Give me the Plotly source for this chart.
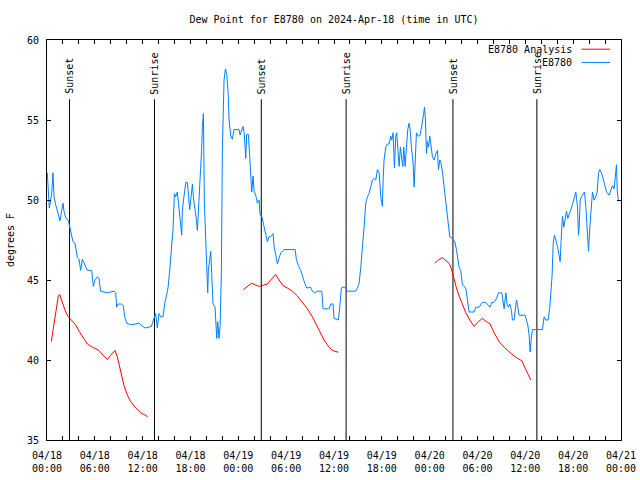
import pandas as pd
import plotly.graph_objects as go

START = pd.Timestamp("2024-04-18 00:00")
TITLE = "Dew Point for E8780 on 2024-Apr-18 (time in UTC)"

# Observed dew point (E8780): hours since start, degrees F
obs_hours = [0.04, 0.17, 0.29, 0.46, 0.59, 0.75, 0.88, 1.09, 1.30, 1.51, 1.63, 1.80, 2.01, 2.13, 2.34, 2.68, 2.84, 3.05, 3.26, 3.51, 3.68, 3.81, 4.02, 4.22, 4.43, 4.64, 4.85, 5.06, 5.60, 5.69, 5.81, 6.02, 6.32, 6.52, 6.73, 7.57, 8.41, 8.62, 8.74, 8.91, 9.33, 9.58, 9.75, 10.0, 10.5, 11.54, 11.75, 11.96, 12.38, 12.80, 13.09,
             13.22, 13.43, 13.63, 13.84, 14.05, 14.26, 14.55, 14.76, 14.97, 15.18, 15.39, 15.60, 15.81, 15.98, 16.14, 16.35, 16.56, 16.77, 16.90, 16.98, 17.19, 17.40, 17.61, 17.73, 17.90, 18.03, 18.24, 18.36, 18.53, 18.74, 18.86, 18.99, 19.16, 19.28, 19.41, 19.49, 19.62, 19.74, 19.91, 20.03, 20.16, 20.24, 20.41, 20.54, 20.66, 20.83, 21.08, 21.16, 21.29, 21.41, 21.58, 21.71, 21.87, 22.00, 22.21, 22.38, 22.54, 22.71, 22.84, 23.05, 23.25, 23.46, 24.09, 24.22, 24.42, 24.59, 24.76, 24.93, 25.05, 25.26, 25.43, 25.55, 25.68, 25.85, 25.97, 26.18, 26.39,
             26.60, 26.73, 26.93, 27.10, 27.35, 27.65, 27.85, 28.06, 28.36, 28.48, 28.69, 28.90, 29.11, 29.32, 29.74, 31.12, 31.28, 31.53, 31.83, 32.04, 32.33, 32.58, 33.08, 33.29, 33.58, 33.92, 34.46, 34.63, 35.38, 35.59, 35.88, 36.01, 36.43, 36.55, 36.72, 36.93, 37.14, 37.39, 37.68, 38.73, 38.94,
             39.15, 39.36, 39.57, 39.77, 39.98, 40.19, 40.40, 40.61, 40.82, 41.03, 41.24, 41.45, 41.66, 41.87, 42.07, 42.16, 42.28, 42.49, 42.70, 42.91, 43.12, 43.25, 43.41, 43.58, 43.75, 43.87, 44.04, 44.17, 44.33, 44.50, 44.63, 44.75, 44.92, 45.09, 45.25, 45.42, 45.55, 45.71, 45.92, 46.05, 46.17, 46.34, 46.55, 46.76, 46.93, 47.09, 47.22, 47.35, 47.47, 47.60, 47.72, 47.85, 48.01, 48.14, 48.35, 48.56, 48.77, 48.98, 49.10, 49.27, 49.44, 49.61, 49.82, 49.94, 50.11, 50.23, 50.36, 50.52, 50.86, 51.15, 51.36, 51.53, 51.69, 51.90, 52.11, 52.36, 52.57, 52.74, 52.95, 53.58, 53.79,
             54.20, 54.62, 55.04, 55.37, 55.58, 55.79, 56.09, 56.38, 56.63, 57.05, 57.21, 57.34, 57.55, 57.72, 57.88, 58.05, 58.26, 58.38, 58.59, 58.72, 58.89, 59.01, 59.22, 59.97, 60.14, 60.31, 60.48, 60.60, 60.77, 60.90, 62.15, 62.36, 62.57, 62.86, 63.07, 63.24, 63.36, 63.49, 63.66, 63.82, 64.03, 64.24, 64.37, 64.49, 64.66, 64.83, 64.99, 65.16, 65.33, 65.50, 65.71, 65.91, 66.12, 66.33, 66.54, 66.67, 66.75, 66.88, 67.04, 67.25, 67.42, 67.59, 67.80, 67.92, 68.09, 68.26, 68.42, 68.63, 68.84, 69.01, 69.18, 69.34, 69.55, 69.76, 69.97, 70.18, 70.51, 70.72, 70.93, 71.14, 71.35, 71.43, 71.54, 71.66]
obs_values = [51.7, 50.0, 49.5, 50.0, 50.4, 51.7, 50.2, 49.7, 49.3, 48.9, 48.7, 49.2, 49.8, 49.3, 48.9, 48.7, 48.3, 47.9, 47.4, 47.3, 46.7, 46.4, 46.3, 45.6, 46.3, 46.1, 45.8, 45.6, 45.6, 45.0, 44.6, 45.0, 45.2, 45.1, 44.3, 44.2, 44.3, 44.2, 43.3, 43.5, 43.5, 43.4, 42.7, 42.3, 42.2, 42.3, 42.2, 42.1, 42.0, 42.05, 42.1,
              42.3, 42.7, 42.9, 42.0, 42.9, 42.7, 42.7, 43.5, 44.0, 44.5, 45.6, 46.9, 48.2, 50.4, 50.2, 50.5, 49.6, 48.3, 47.8, 49.4, 50.2, 51.1, 51.1, 50.2, 49.4, 50.0, 51.0, 50.2, 49.6, 48.75, 48.1, 49.2, 50.4, 52.2, 53.3, 54.6, 55.4, 49.8, 47.3, 45.4, 44.2, 45.6, 46.5, 46.8, 45.4, 43.5, 43.3, 42.0, 41.35, 42.4, 41.35, 42.1, 45.4, 53.2, 57.5, 58.2, 57.9, 56.8, 55.0, 54.0, 53.8, 54.4, 54.4, 54.06, 54.4, 54.6, 54.06, 52.6, 54.1, 54.1, 52.7, 51.5, 50.5, 51.5, 50.6, 50.3, 49.8,
              50.0, 49.06, 49.0, 48.6, 48.1, 47.4, 47.7, 47.7, 47.9, 47.1, 46.6, 46.0, 46.35, 46.7, 46.9, 46.9, 46.3, 45.9, 45.6, 45.2, 44.8, 44.5, 44.54, 44.3, 44.2, 44.3, 44.3, 43.2, 43.2, 43.5, 43.5, 42.6, 42.5, 42.5, 43.3, 44.5, 44.55, 44.55, 44.3, 44.3, 44.5,
              44.8, 45.8, 46.9, 48.3, 49.8, 50.2, 50.4, 50.8, 51.25, 51.35, 51.25, 51.9, 51.7, 50.2, 49.6, 51.25, 52.5, 53.3, 53.5, 53.5, 54.0, 53.75, 54.2, 52.0, 54.0, 54.2, 53.1, 52.1, 53.3, 52.5, 52.1, 53.3, 52.1, 53.3, 54.4, 54.8, 54.4, 53.3, 52.3, 50.8, 52.3, 54.2, 54.0, 54.0, 54.4, 54.8, 55.3, 55.8, 55.0, 52.9, 53.65, 53.3, 54.0, 53.5, 52.7, 52.5, 52.9, 53.1, 51.9, 52.5, 52.3, 51.7, 50.8, 50.2, 49.4, 48.75, 48.3, 47.7, 47.6, 47.4, 46.9, 46.25, 45.8, 45.6, 44.7, 44.6, 44.4, 43.75, 43.0, 43.0, 43.3,
              43.3, 43.6, 43.6, 43.45, 43.3, 43.6, 43.6, 43.85, 44.2, 44.2, 43.65, 43.2, 44.2, 43.45, 43.3, 43.5, 43.1, 42.5, 42.5, 43.1, 43.75, 43.45, 42.8, 42.8, 42.5, 42.2, 41.5, 40.5, 41.5, 41.9, 41.9, 42.7, 42.5, 42.5, 43.3, 44.2, 45.3, 47.3, 47.8, 47.5, 47.1, 46.5, 46.15, 47.5, 49.0, 48.3, 48.75, 49.3, 48.85, 49.06, 49.4, 49.7, 50.2, 50.5, 49.6, 47.8, 48.3, 50.0, 50.2, 50.4, 50.5, 49.6, 47.4, 46.8, 48.3, 49.6, 50.5, 50.0, 50.2, 50.5, 51.7, 51.9, 51.7, 51.35, 50.9, 50.5, 50.3, 50.6, 50.9, 50.7, 51.7, 52.2, 50.5, 50.0]

# Analysis series, three separate runs
ana1_hours = [0.54, 0.88, 1.17, 1.42, 1.59, 1.92, 2.34, 2.68, 3.18, 3.60, 4.02, 4.43, 5.06, 5.69, 6.52, 7.03, 7.57, 7.99, 8.53, 8.82, 9.24, 9.66, 10.08, 10.50, 11.13, 11.75, 12.30, 12.63]
ana1_values = [41.15, 42.3, 43.3, 44.0, 44.1, 43.65, 43.0, 42.7, 42.4, 42.2, 41.8, 41.45, 41.0, 40.8, 40.6, 40.3, 40.04, 40.3, 40.6, 40.2, 39.2, 38.4, 37.8, 37.4, 37.0, 36.7, 36.56, 36.46]
ana2_hours = [24.63, 25.14, 25.68, 26.18, 26.60, 27.23, 27.65, 28.06, 28.69, 29.11, 29.61, 30.15, 30.78, 31.41, 32.04, 32.66, 33.29, 33.79, 34.21, 34.75, 35.38, 35.80, 36.55]
ana2_values = [44.4, 44.6, 44.8, 44.69, 44.6, 44.69, 44.75, 45.0, 45.35, 45.0, 44.65, 44.5, 44.3, 44.0, 43.6, 43.2, 42.7, 42.2, 41.7, 41.25, 40.8, 40.6, 40.48]
ana3_hours = [48.64, 49.10, 49.60, 50.02, 50.44, 50.73, 51.07, 51.36, 51.69, 52.11, 52.53, 53.03, 53.58, 54.12, 54.62, 55.12, 55.58, 56.09, 56.71, 57.34, 57.97, 58.59, 59.22, 59.56, 59.97, 60.35, 60.69]
ana3_values = [46.04, 46.25, 46.4, 46.19, 46.04, 45.7, 45.0, 44.5, 44.0, 43.44, 42.96, 42.5, 42.1, 42.4, 42.6, 42.4, 42.25, 41.7, 41.15, 40.8, 40.5, 40.25, 40.04, 39.96, 39.5, 39.06, 38.75]

sunset_hours = [2.83, 26.88, 50.92]
sunrise_hours = [13.48, 37.52, 61.45]
event_top = 56.3

tick_hours = list(range(0, 73, 2))
label_hours = list(range(0, 73, 6))
y_ticks = [35, 40, 45, 50, 55, 60]

legend_names = ["E8780 Analysis", "E8780"]
RED = "#ff0000"
BLUE = "#0080ff"
FONT = "DejaVu Sans Mono"


def to_time(hours):
    return [None if h is None else START + pd.Timedelta(hours=h) for h in hours]


ana_hours = ana1_hours + [None] + ana2_hours + [None] + ana3_hours
ana_values = ana1_values + [None] + ana2_values + [None] + ana3_values

fig = go.Figure()

# sunrise / sunset lines
ev_x, ev_y = [], []
for h in sunset_hours + sunrise_hours:
    ev_x += [h, h, None]
    ev_y += [35, event_top, None]
fig.add_trace(go.Scatter(x=to_time(ev_x), y=ev_y, mode="lines",
                         line=dict(color="black", width=1), hoverinfo="skip", showlegend=False))

fig.add_trace(go.Scatter(x=to_time(ana_hours), y=ana_values, mode="lines", name=legend_names[0],
                         line=dict(color=RED, width=1), connectgaps=False))
fig.add_trace(go.Scatter(x=to_time(obs_hours), y=obs_values, mode="lines", name=legend_names[1],
                         line=dict(color=BLUE, width=1)))

annotations = []
for label, hours in (("Sunset", sunset_hours), ("Sunrise", sunrise_hours)):
    for h in hours:
        annotations.append(dict(x=START + pd.Timedelta(hours=h), y=event_top, xref="x", yref="y",
                                text=label, textangle=-90, showarrow=False,
                                xanchor="center", yanchor="bottom", yshift=3,
                                font=dict(family=FONT, size=10, color="black")))

# gnuplot-style legend: text on left, line sample on right
shapes = []
leg_y = [0.977, 0.944]
for name, col, ly in zip(legend_names, [RED, BLUE], leg_y):
    annotations.append(dict(x=0.918, y=ly, xref="paper", yref="paper", text=name, showarrow=False,
                            xanchor="right", yanchor="middle",
                            font=dict(family=FONT, size=10, color="black")))
    shapes.append(dict(type="line", xref="paper", yref="paper", x0=0.9315, x1=0.981, y0=ly, y1=ly,
                       line=dict(color=col, width=1)))

tick_vals = [START + pd.Timedelta(hours=h) for h in tick_hours]
tick_text = [(START + pd.Timedelta(hours=h)).strftime("%m/%d<br>%H:%M") if h in label_hours else ""
             for h in tick_hours]

W, H = 640, 480
fig.update_layout(
    width=W, height=H,
    margin=dict(l=47, r=19, t=40, b=40, autoexpand=False),
    plot_bgcolor="white", paper_bgcolor="white",
    showlegend=False,
    font=dict(family=FONT, size=10, color="black"),
    title=dict(text=TITLE, x=0.5, xref="paper", xanchor="center", y=1 - 19 / H,
               yref="container", yanchor="middle", font=dict(family=FONT, size=10, color="black")),
    annotations=annotations,
    shapes=shapes,
)
fig.update_xaxes(type="date", range=[START, START + pd.Timedelta(hours=72)],
                 tickmode="array", tickvals=tick_vals, ticktext=tick_text,
                 ticks="inside", ticklen=4, tickcolor="black", showline=True, linecolor="black",
                 linewidth=1, mirror="ticks", showgrid=False, zeroline=False, automargin=False,
                 ticklabelstandoff=6, tickfont=dict(family=FONT, size=10, color="black"))
fig.update_yaxes(range=[35, 60], tickmode="array", tickvals=y_ticks, ticktext=[str(v) for v in y_ticks],
                 ticks="inside", ticklen=4, tickcolor="black", showline=True, linecolor="black",
                 linewidth=1, mirror="ticks", showgrid=False, zeroline=False,
                 ticklabelstandoff=5, tickfont=dict(family=FONT, size=10, color="black"),
                 title=dict(text="degrees F", standoff=10, font=dict(family=FONT, size=10, color="black")),
                 automargin=False)

# place the 640x480 figure flush with the page corner, without scrollbars
page_fix = ("document.documentElement.style.overflow='hidden';"
            "document.body.style.margin='0';document.body.style.overflow='hidden';")
fig.write_html("out.html", post_script=page_fix, config={"displayModeBar": False})
